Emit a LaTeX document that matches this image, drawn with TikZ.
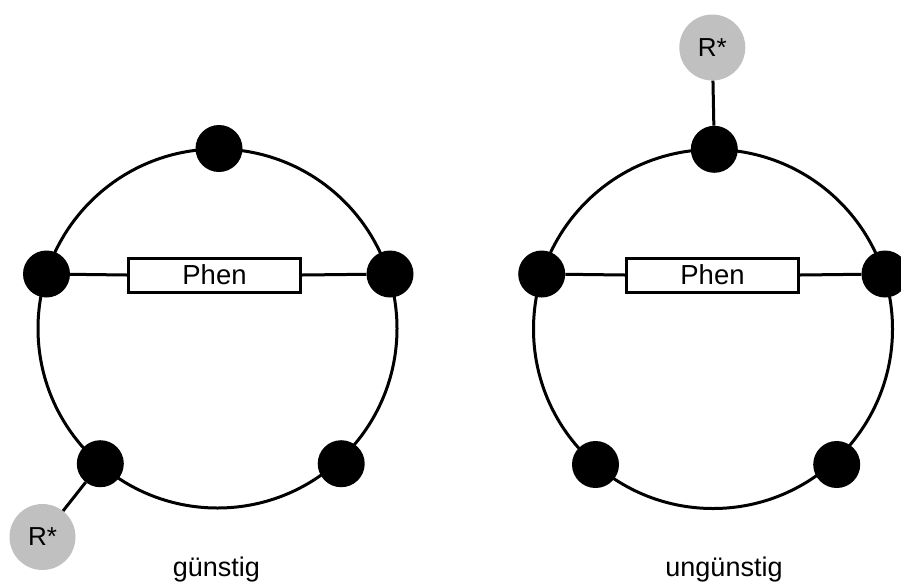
\documentclass[tikz,border=0pt]{standalone}
\usepackage{fontspec}
\setmainfont{Liberation Sans}
\definecolor{rgray}{RGB}{192,192,192}
\begin{document}
\begin{tikzpicture}[x=1pt,y=-1pt,
  ring/.style={line width=3pt},
  dot/.style={circle,fill=black,inner sep=0pt,minimum size=47pt},
  rnode/.style={circle,fill=rgray,inner sep=0pt,minimum size=66pt,font=\fontsize{26}{30}\selectfont},
  phen/.style={draw,line width=3pt,fill=white,minimum width=172pt,minimum height=34pt,inner sep=0pt,font=\fontsize{27.5}{32}\selectfont},
  conn/.style={line width=3pt},
  lbl/.style={anchor=base,inner sep=0pt,font=\fontsize{27}{32}\selectfont}]
\useasboundingbox (0,0) rectangle (901,584);
% left ring
\draw[ring] (217.5,328.5) circle[radius=179.5];
\node[dot] (lT) at (219,148.5) {};
\node[dot] (lL) at (46.5,274) {};
\node[dot] (lR) at (390,274) {};
\node[dot] (lBL) at (100.3,463.7) {};
\node[dot] (lBR) at (341.2,463.7) {};
\node[phen] (lP) at (214.5,275) {Phen};
\draw[conn] (lL) -- (lP.west);
\draw[conn] (lP.east) -- (lR);
\node[rnode] (lRs) at (42.5,537) {R*};
\draw[conn] (lRs) -- (lBL);
\node[lbl] (lg) at (216.4,576.7) {günstig};
% right ring
\draw[ring] (713,329) circle[radius=179.5];
\node[dot] (rT) at (714.3,149.3) {};
\node[dot] (rL) at (541.7,274) {};
\node[dot] (rR) at (885,274) {};
\node[dot] (rBL) at (595.5,464.5) {};
\node[dot] (rBR) at (836.7,464.5) {};
\node[phen] (rP) at (712.5,275) {Phen};
\draw[conn] (rL) -- (rP.west);
\draw[conn] (rP.east) -- (rR);
\node[rnode] (rRs) at (712.3,47.5) {R*};
\draw[conn] (rRs) -- (rT);
\node[lbl] (rg) at (724,576.7) {ungünstig};
\end{tikzpicture}
\end{document}
